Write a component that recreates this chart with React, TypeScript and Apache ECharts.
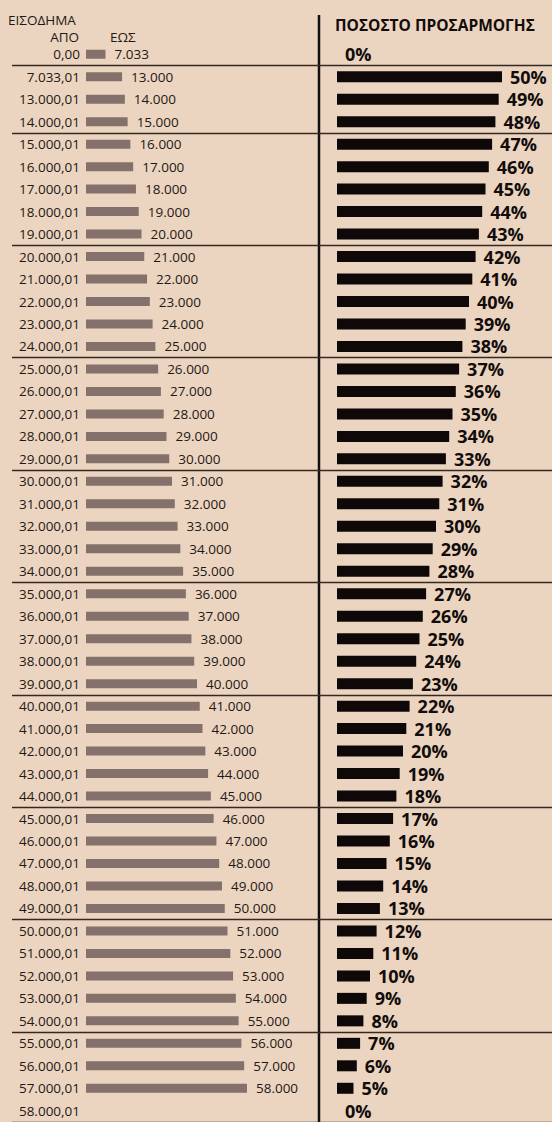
import { useEffect, useRef } from "react";
import * as echarts from "echarts";

// Income range "from" (ΑΠΟ) — category labels
const fromIncome = [
  "0,00", "7.033,01", "13.000,01", "14.000,01", "15.000,01", "16.000,01", "17.000,01",
  "18.000,01", "19.000,01", "20.000,01", "21.000,01", "22.000,01", "23.000,01", "24.000,01",
  "25.000,01", "26.000,01", "27.000,01", "28.000,01", "29.000,01", "30.000,01", "31.000,01",
  "32.000,01", "33.000,01", "34.000,01", "35.000,01", "36.000,01", "37.000,01", "38.000,01",
  "39.000,01", "40.000,01", "41.000,01", "42.000,01", "43.000,01", "44.000,01", "45.000,01",
  "46.000,01", "47.000,01", "48.000,01", "49.000,01", "50.000,01", "51.000,01", "52.000,01",
  "53.000,01", "54.000,01", "55.000,01", "56.000,01", "57.000,01", "58.000,01",
];

// Income range "to" (ΕΩΣ)
const toIncome = [
  7033, 13000, 14000, 15000, 16000, 17000, 18000, 19000, 20000, 21000, 22000, 23000, 24000,
  25000, 26000, 27000, 28000, 29000, 30000, 31000, 32000, 33000, 34000, 35000, 36000, 37000,
  38000, 39000, 40000, 41000, 42000, 43000, 44000, 45000, 46000, 47000, 48000, 49000, 50000,
  51000, 52000, 53000, 54000, 55000, 56000, 57000, 58000, null,
];

// Adjustment percentage (ΠΟΣΟΣΤΟ ΠΡΟΣΑΡΜΟΓΗΣ)
const adjustment = [
  0, 50, 49, 48, 47, 46, 45, 44, 43, 42, 41, 40, 39, 38, 37, 36, 35, 34, 33, 32, 31, 30, 29,
  28, 27, 26, 25, 24, 23, 22, 21, 20, 19, 18, 17, 16, 15, 14, 13, 12, 11, 10, 9, 8, 7, 6, 5, 0,
];

// Rows above which a separator line is drawn
const groupStarts = [
  "7.033,01", "15.000,01", "20.000,01", "25.000,01", "30.000,01", "35.000,01",
  "40.000,01", "45.000,01", "50.000,01", "55.000,01",
];

const fmt = (v: number) => String(v).replace(/\B(?=(\d{3})+(?!\d))/g, ".");

const FONT = "'Open Sans', 'Noto Sans', sans-serif";
const TEXT = "#1f1816";

export default function App() {
  const ref = useRef<HTMLDivElement>(null);
  useEffect(() => {
    const chart = echarts.init(ref.current!, null, { renderer: "svg" });
    const top = 43;
    const height = 1079;
    chart.setOption({
      animation: false,
      backgroundColor: "#ebd5c0",
      grid: [
        { left: 12, right: 0, top, height },
        { left: 86, width: 166.5, top, height },
        { left: 337, width: 165, top, height },
      ],
      xAxis: [
        { type: "value", gridIndex: 0, show: false, min: 0, max: 1 },
        { type: "value", gridIndex: 1, show: false, min: 0, max: 60000 },
        { type: "value", gridIndex: 2, show: false, min: 0, max: 50 },
      ],
      yAxis: [
        {
          type: "category",
          gridIndex: 0,
          data: fromIncome,
          inverse: true,
          axisLine: { show: false },
          axisTick: { show: false },
          axisLabel: { show: false },
          splitLine: {
            show: true,
            interval: (_i: number, v: string) => groupStarts.includes(v),
            lineStyle: { color: "#35281f", width: 1.4 },
          },
        },
        {
          type: "category",
          gridIndex: 1,
          data: fromIncome,
          inverse: true,
          axisLine: { show: false },
          axisTick: { show: false },
          splitLine: { show: false },
          axisLabel: { margin: 6, fontSize: 13.5, color: TEXT, fontFamily: FONT },
        },
        {
          type: "category",
          gridIndex: 2,
          data: fromIncome,
          inverse: true,
          show: false,
        },
      ],
      series: [
        {
          type: "bar",
          xAxisIndex: 1,
          yAxisIndex: 1,
          data: toIncome,
          barWidth: 9,
          itemStyle: { color: "#84716b" },
          label: {
            show: true,
            position: "right",
            distance: 9,
            fontSize: 13.5,
            fontFamily: FONT,
            color: TEXT,
            formatter: (p: any) => (p.value == null ? "" : fmt(p.value)),
          },
        },
        {
          type: "bar",
          xAxisIndex: 2,
          yAxisIndex: 2,
          data: adjustment,
          barWidth: 11,
          itemStyle: { color: "#0e0808" },
          label: {
            show: true,
            position: "right",
            distance: 8,
            fontSize: 18,
            fontWeight: "bold",
            fontFamily: FONT,
            color: "#120c0b",
            formatter: "{c}%",
          },
        },
      ],
      graphic: [
        {
          type: "line",
          shape: { x1: 319, y1: 15, x2: 319, y2: 1122 },
          style: { stroke: "#111", lineWidth: 2.5 },
        },
        {
          type: "text",
          x: 8,
          y: 20,
          style: { text: "ΕΙΣΟΔΗΜΑ", fontSize: 13.5, fontFamily: FONT, fill: TEXT, verticalAlign: "middle" },
        },
        {
          type: "text",
          x: 79,
          y: 37,
          style: { text: "ΑΠΟ", fontSize: 13.5, fontFamily: FONT, fill: TEXT, align: "right", verticalAlign: "middle" },
        },
        {
          type: "text",
          x: 110,
          y: 37,
          style: { text: "ΕΩΣ", fontSize: 13.5, fontFamily: FONT, fill: TEXT, verticalAlign: "middle" },
        },
        {
          type: "text",
          x: 335,
          y: 25,
          style: {
            text: "ΠΟΣΟΣΤΟ ΠΡΟΣΑΡΜΟΓΗΣ",
            fontSize: 15.5,
            fontWeight: "bold",
            fontFamily: FONT,
            fill: "#120c0b",
            verticalAlign: "middle",
          },
        },
      ],
    });
    return () => chart.dispose();
  }, []);
  return (
    <div
      ref={ref}
      style={{ position: "absolute", left: 0, top: 0, width: 552, height: 1122, background: "#ebd5c0" }}
    />
  );
}
